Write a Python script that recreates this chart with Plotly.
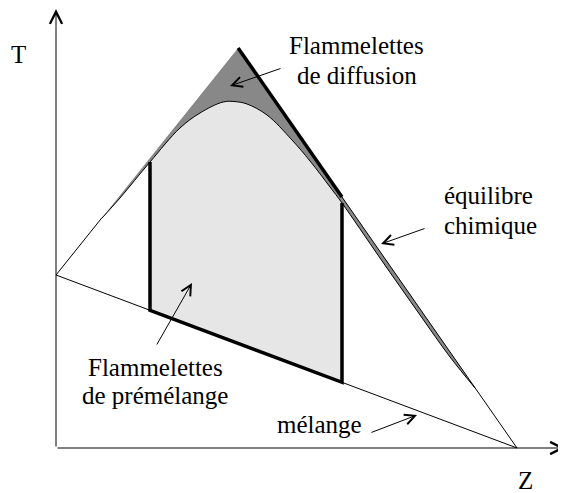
import numpy as np
import plotly.graph_objects as go

# ---------------- data (normalised Z and T) ----------------
z_eq = [0.0, 0.395, 1.0]          # chemical equilibrium (Burke-Schumann) corners
t_eq = [0.4325, 1.0, 0.0]
z_mix = [0.0, 1.0]                # pure mixing line
t_mix = [0.4325, 0.0]
# diffusion flamelet curve
z_diff = [0.0998, 0.1388, 0.2039, 0.2690, 0.3124, 0.3623, 0.3883, 0.4143,
          0.4577, 0.5119, 0.5510, 0.5944, 0.6204, 0.7028, 0.7896, 0.8547, 0.9089]
t_diff = [0.575, 0.625, 0.715, 0.800, 0.8375, 0.865, 0.866, 0.860,
          0.8325, 0.770, 0.7175, 0.6525, 0.6125, 0.475, 0.3325, 0.2275, 0.150]
z_pre = [0.2039, 0.6204]          # premixed flamelet region bounds in Z

# label texts and anchor positions (data units)
labels = [
    ("Flammelettes", 0.6529, 1.0075, "center"),
    ("de diffusion", 0.6529, 0.9325, "center"),
    ("équilibre", 0.8373, 0.6325, "left"),
    ("chimique", 0.8373, 0.5575, "left"),
    ("Flammelettes", 0.2148, 0.2025, "center"),
    ("de prémélange", 0.2148, 0.1325, "center"),
    ("mélange", 0.4751, 0.060, "left"),
    ("T", -0.0803, 0.985, "center"),
    ("Z", 1.0174, -0.080, "center"),
]
# pointer arrows: (tail z, tail t, head z, head t)
pointers = [
    (0.4902, 0.950, 0.3774, 0.905),
    (0.8026, 0.550, 0.7050, 0.510),
    (0.2169, 0.255, 0.2950, 0.4125),
    (0.6811, 0.0375, 0.7831, 0.0825),
]
axis_arrows = [
    (0.0, 0.0, 0.0, 1.0975),
    (0.0, 0.0, 1.1041, 0.0),
]

FONT = "Liberation Serif, serif"
DARK = "#888888"
LIGHT = "#e6e6e6"

# the page body has an 8px margin: shift the data frame to compensate
OFF = 8
PX_X = 461.0   # pixels per unit Z
PX_Y = 400.0   # pixels per unit T
X0 = 56 - OFF  # pixel of Z = 0 inside the figure
Y0 = 448 - OFF  # pixel of T = 0 inside the figure
W, H = 566, 493


def t_eq_at(z):
    return float(np.interp(z, z_eq, t_eq))


def t_mix_at(z):
    return float(np.interp(z, z_mix, t_mix))


fig = go.Figure()

# light grey premixed flamelet region
i0 = z_diff.index(z_pre[0])
i1 = z_diff.index(z_pre[1])
fig.add_trace(go.Scatter(x=z_pre, y=[t_mix_at(z) for z in z_pre], mode="lines",
                         line=dict(width=0, color=LIGHT), hoverinfo="skip"))
fig.add_trace(go.Scatter(x=z_diff[i0:i1 + 1], y=t_diff[i0:i1 + 1], mode="lines",
                         line=dict(width=0, color=LIGHT, shape="spline"),
                         fill="tonexty", fillcolor=LIGHT, hoverinfo="skip"))

# dark grey region between diffusion flamelets and equilibrium
fig.add_trace(go.Scatter(x=z_diff, y=t_diff, mode="lines",
                         line=dict(width=0, color=DARK, shape="spline"), hoverinfo="skip"))
eq_top_z = [z_diff[0], z_eq[1], z_diff[-1]]
fig.add_trace(go.Scatter(x=eq_top_z, y=[t_eq_at(z) for z in eq_top_z], mode="lines",
                         line=dict(width=0, color=DARK), fill="tonexty",
                         fillcolor=DARK, hoverinfo="skip"))

# thin lines
fig.add_trace(go.Scatter(x=z_diff, y=t_diff, mode="lines",
                         line=dict(width=1, color="black", shape="spline"), hoverinfo="skip"))
fig.add_trace(go.Scatter(x=z_mix, y=t_mix, mode="lines",
                         line=dict(width=1, color="black"), hoverinfo="skip"))
fig.add_trace(go.Scatter(x=[z_eq[0], z_diff[0]], y=[t_eq[0], t_eq_at(z_diff[0])],
                         mode="lines", line=dict(width=1, color="black"), hoverinfo="skip"))
fig.add_trace(go.Scatter(x=[z_pre[1], z_eq[2]], y=[t_eq_at(z_pre[1]), t_eq[2]],
                         mode="lines", line=dict(width=1, color="black"), hoverinfo="skip"))

# thick lines
fig.add_trace(go.Scatter(x=[z_eq[1], z_pre[1]], y=[t_eq[1], t_eq_at(z_pre[1])],
                         mode="lines", line=dict(width=3.5, color="black"), hoverinfo="skip"))
fig.add_trace(go.Scatter(
    x=[z_pre[0], z_pre[0], z_pre[1], z_pre[1]],
    y=[t_diff[i0], t_mix_at(z_pre[0]), t_mix_at(z_pre[1]), t_diff[i1]],
    mode="lines", line=dict(width=3.5, color="black"), hoverinfo="skip"))

for text, x, y, anchor in labels:
    fig.add_annotation(x=x, y=y, xref="x", yref="y", text=text, showarrow=False,
                       xanchor=anchor, yanchor="middle",
                       font=dict(family=FONT, size=25, color="black"))

for (x0, y0, x1, y1) in pointers:
    fig.add_annotation(x=x1, y=y1, ax=x0, ay=y0, xref="x", yref="y", axref="x", ayref="y",
                       text="", showarrow=True, arrowhead=5, arrowsize=2, arrowwidth=1,
                       arrowcolor="black", standoff=0)
for (x0, y0, x1, y1) in axis_arrows:
    fig.add_annotation(x=x1, y=y1, ax=x0, ay=y0, xref="x", yref="y", axref="x", ayref="y",
                       text="", showarrow=True, arrowhead=5, arrowsize=2.4, arrowwidth=1,
                       arrowcolor="black", standoff=0)

fig.update_layout(
    width=W, height=H,
    margin=dict(l=0, r=0, t=0, b=0),
    paper_bgcolor="white", plot_bgcolor="white",
    showlegend=False,
    xaxis=dict(range=[-X0 / PX_X, (W - X0) / PX_X], visible=False, fixedrange=True),
    yaxis=dict(range=[(Y0 - H) / PX_Y, Y0 / PX_Y], visible=False, fixedrange=True),
)

fig.write_html("out.html")
